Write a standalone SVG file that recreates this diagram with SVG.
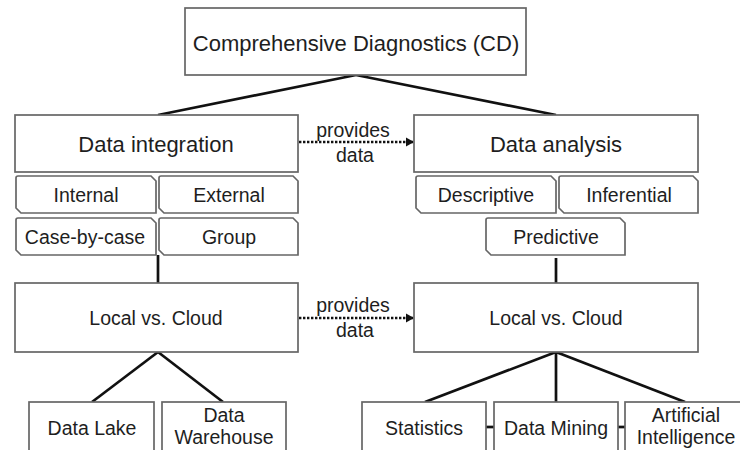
<svg xmlns="http://www.w3.org/2000/svg" width="740" height="450" viewBox="0 0 740 450">
  <defs>
    <style>
      .box { fill: #fff; stroke: #666; stroke-width: 1.7; }
      .tab { fill: #fff; stroke: #666; stroke-width: 1.7; stroke-linejoin: miter; }
      .lbl { font-family: "Liberation Sans", Arial, sans-serif; fill: #1e1e1e; text-anchor: middle; font-size: 19.5px; }
      .big { font-size: 22px; }
      .link { stroke: #111; stroke-width: 2.7; fill: none; }
      .flow { stroke: #111; stroke-width: 2.6; stroke-dasharray: 2.4 1.6; fill: none; }
    </style>
    <marker id="arrow" markerWidth="8" markerHeight="10" refX="7" refY="5" orient="auto" markerUnits="userSpaceOnUse">
      <path d="M0,0.5 L8,5 L0,9.5 Z" fill="#111"/>
    </marker>
  </defs>

  <rect width="740" height="450" fill="#fff"/>

  <!-- connectors -->
  <g id="connectors">
    <line class="link" x1="356" y1="75" x2="158" y2="115"/>
    <line class="link" x1="356" y1="75" x2="556" y2="115"/>
    <line class="link" x1="158" y1="255" x2="158" y2="283"/>
    <line class="link" x1="556" y1="258" x2="556" y2="283"/>
    <line class="link" x1="158" y1="352" x2="92" y2="402"/>
    <line class="link" x1="158" y1="352" x2="223" y2="402"/>
    <line class="link" x1="556" y1="352" x2="425" y2="402"/>
    <line class="link" x1="556" y1="352" x2="556" y2="402"/>
    <line class="link" x1="556" y1="352" x2="685" y2="402"/>
    <line class="link" x1="486" y1="427" x2="494" y2="427"/>
    <line class="link" x1="618" y1="427" x2="625" y2="427"/>
    <line class="flow" x1="299" y1="142" x2="413" y2="142" marker-end="url(#arrow)"/>
    <line class="flow" x1="299" y1="318" x2="413" y2="318" marker-end="url(#arrow)"/>
    <text class="lbl" x="353" y="137">provides</text>
    <text class="lbl" x="355" y="162">data</text>
    <text class="lbl" x="353" y="312">provides</text>
    <text class="lbl" x="355" y="337">data</text>
  </g>

  <!-- root -->
  <g id="cd">
    <rect class="box" x="185" y="8" width="341" height="67"/>
    <text class="lbl big" x="356" y="51">Comprehensive Diagnostics (CD)</text>
  </g>

  <!-- integration branch -->
  <g id="data-integration">
    <rect class="box" x="15" y="115" width="283" height="57"/>
    <text class="lbl big" x="156" y="152">Data integration</text>
  </g>
  <g id="internal">
    <path class="tab" d="M18,176 H151 L156,181 V213 H21 L16,208 V178 Q16,176 18,176 Z"/>
    <text class="lbl" x="86" y="202">Internal</text>
  </g>
  <g id="external">
    <path class="tab" d="M161,176 H293 L298,181 V213 H164 L159,208 V178 Q159,176 161,176 Z"/>
    <text class="lbl" x="229" y="202">External</text>
  </g>
  <g id="case-by-case">
    <path class="tab" d="M18,218 H151 L156,223 V255 H21 L16,250 V220 Q16,218 18,218 Z"/>
    <text class="lbl" x="85" y="244">Case-by-case</text>
  </g>
  <g id="group">
    <path class="tab" d="M161,218 H293 L298,223 V255 H164 L159,250 V220 Q159,218 161,218 Z"/>
    <text class="lbl" x="229" y="244">Group</text>
  </g>
  <g id="local-cloud-left">
    <rect class="box" x="15" y="283" width="283" height="69"/>
    <text class="lbl" x="156" y="325">Local vs. Cloud</text>
  </g>
  <g id="data-lake">
    <rect class="box" x="29" y="402" width="125" height="60"/>
    <text class="lbl" x="92" y="435">Data Lake</text>
  </g>
  <g id="data-warehouse">
    <rect class="box" x="162" y="402" width="124" height="60"/>
    <text class="lbl" x="224" y="422">Data</text>
    <text class="lbl" x="224" y="444">Warehouse</text>
  </g>

  <!-- analysis branch -->
  <g id="data-analysis">
    <rect class="box" x="414" y="115" width="284" height="57"/>
    <text class="lbl big" x="556" y="152">Data analysis</text>
  </g>
  <g id="descriptive">
    <path class="tab" d="M418,176 H551 L556,181 V213 H421 L416,208 V178 Q416,176 418,176 Z"/>
    <text class="lbl" x="486" y="202">Descriptive</text>
  </g>
  <g id="inferential">
    <path class="tab" d="M561,176 H693 L698,181 V213 H564 L559,208 V178 Q559,176 561,176 Z"/>
    <text class="lbl" x="629" y="202">Inferential</text>
  </g>
  <g id="predictive">
    <path class="tab" d="M488,218 H620 L625,223 V255 H491 L486,250 V220 Q486,218 488,218 Z"/>
    <text class="lbl" x="556" y="244">Predictive</text>
  </g>
  <g id="local-cloud-right">
    <rect class="box" x="414" y="283" width="284" height="69"/>
    <text class="lbl" x="556" y="325">Local vs. Cloud</text>
  </g>
  <g id="statistics">
    <rect class="box" x="362" y="402" width="124" height="60"/>
    <text class="lbl" x="424" y="435">Statistics</text>
  </g>
  <g id="data-mining">
    <rect class="box" x="494" y="402" width="124" height="60"/>
    <text class="lbl" x="556" y="435">Data Mining</text>
  </g>
  <g id="ai">
    <rect class="box" x="625" y="402" width="124" height="60"/>
    <text class="lbl" x="686" y="422">Artificial</text>
    <text class="lbl" x="686" y="444">Intelligence</text>
  </g>
</svg>
